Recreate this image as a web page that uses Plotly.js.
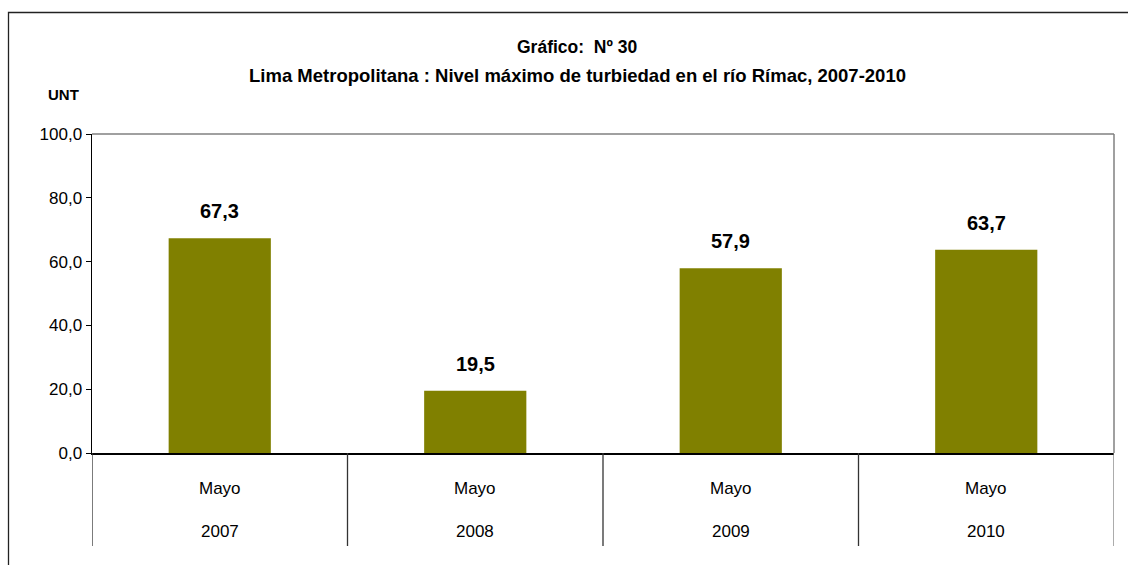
<!DOCTYPE html>
<html>
<head>
<meta charset="utf-8">
<script src="https://cdn.plot.ly/plotly-3.0.1.min.js"></script>
<style>html,body{margin:0;padding:0;background:#fff;}#chart{width:1128px;height:565px;}</style>
</head>
<body>
<div id="chart"></div>
<script>
var categories = ["2007", "2008", "2009", "2010"];
var months = ["Mayo", "Mayo", "Mayo", "Mayo"];
var values = [67.3, 19.5, 57.9, 63.7];
var yTicks = [0, 20, 40, 60, 80, 100];
var titleLine1 = "Gráfico:  Nº 30";
var titleLine2 = "Lima Metropolitana : Nivel máximo de turbiedad en el río Rímac, 2007-2010";
var yUnit = "UNT";

var FONT = '"Liberation Sans Narrow", "Arial Narrow", "Liberation Sans", Arial, sans-serif';
var W = 1128, H = 565, ml = 92, mr = 14, mt = 134, mb = 112;
var pw = W - ml - mr, ph = H - mt - mb;
function px(x) { return (x - ml) / pw; }
function py(y) { return (H - mb - y) / ph; }
function fmt(v) { return v.toFixed(1).replace('.', ','); }

var xIdx = categories.map(function (c, i) { return i; });

var trace = {
  type: 'bar',
  x: xIdx,
  y: values,
  width: 0.4,
  marker: { color: '#808000' },
  hoverinfo: 'none'
};

var annotations = [];
values.forEach(function (v, i) {
  annotations.push({ x: i, y: v, xref: 'x', yref: 'y', text: '<b>' + fmt(v) + '</b>',
    showarrow: false, yanchor: 'bottom', yshift: 14, font: { family: FONT, size: 20, color: '#000' } });
  annotations.push({ x: i, y: py(488), xref: 'x', yref: 'paper', text: months[i],
    showarrow: false, yanchor: 'middle', font: { family: FONT, size: 17, color: '#000' } });
  annotations.push({ x: i, y: py(531), xref: 'x', yref: 'paper', text: categories[i],
    showarrow: false, yanchor: 'middle', font: { family: FONT, size: 17, color: '#000' } });
});
annotations.push({ x: px(577), y: py(47), xref: 'paper', yref: 'paper', text: '<b>' + titleLine1 + '</b>',
  showarrow: false, xanchor: 'center', yanchor: 'middle', font: { family: FONT, size: 17.5, color: '#000' } });
annotations.push({ x: px(577), y: py(76), xref: 'paper', yref: 'paper', text: '<b>' + titleLine2 + '</b>',
  showarrow: false, xanchor: 'center', yanchor: 'middle', font: { family: FONT, size: 18.5, color: '#000' } });
annotations.push({ x: px(63), y: py(95), xref: 'paper', yref: 'paper', text: '<b>' + yUnit + '</b>',
  showarrow: false, xanchor: 'center', yanchor: 'middle', font: { family: FONT, size: 15, color: '#000' } });

var shapes = [];
// outer frame
shapes.push({ type: 'rect', xref: 'paper', yref: 'paper', x0: px(8.5), x1: px(1140), y0: py(580), y1: py(12.5),
  line: { color: '#222', width: 1.3 }, fillcolor: 'rgba(0,0,0,0)', layer: 'below' });
// plot top and right borders
shapes.push({ type: 'line', xref: 'paper', yref: 'paper', x0: 0, x1: 1, y0: 1, y1: 1, line: { color: '#808080', width: 1.5 } });
shapes.push({ type: 'line', xref: 'paper', yref: 'paper', x0: 1, x1: 1, y0: 0, y1: 1, line: { color: '#808080', width: 1.5 } });
// category separators
for (var k = 0; k <= categories.length; k++) {
  shapes.push({ type: 'line', xref: 'x', yref: 'paper', x0: k - 0.5, x1: k - 0.5, y0: 0, y1: py(546),
    line: { color: k === categories.length ? '#808080' : '#333', width: 1.3 } });
}

var layout = {
  width: W, height: H,
  margin: { l: ml, r: mr, t: mt, b: mb, pad: 0 },
  paper_bgcolor: '#fff', plot_bgcolor: '#fff',
  showlegend: false,
  separators: ',.',
  xaxis: { range: [-0.5, categories.length - 0.5], showticklabels: false, ticks: '', showgrid: false,
    zeroline: false, showline: true, linecolor: '#000', linewidth: 1.5, fixedrange: true },
  yaxis: { range: [0, 100], tickvals: yTicks, ticktext: yTicks.map(fmt), ticks: 'outside', ticklen: 5,
    tickcolor: '#000', tickwidth: 1, showgrid: false, zeroline: false, showline: true, linecolor: '#000',
    linewidth: 1.5, tickfont: { family: FONT, size: 17, color: '#000' }, fixedrange: true },
  annotations: annotations,
  shapes: shapes
};

Plotly.newPlot('chart', [trace], layout, { displayModeBar: false, staticPlot: true });
</script>
</body>
</html>
